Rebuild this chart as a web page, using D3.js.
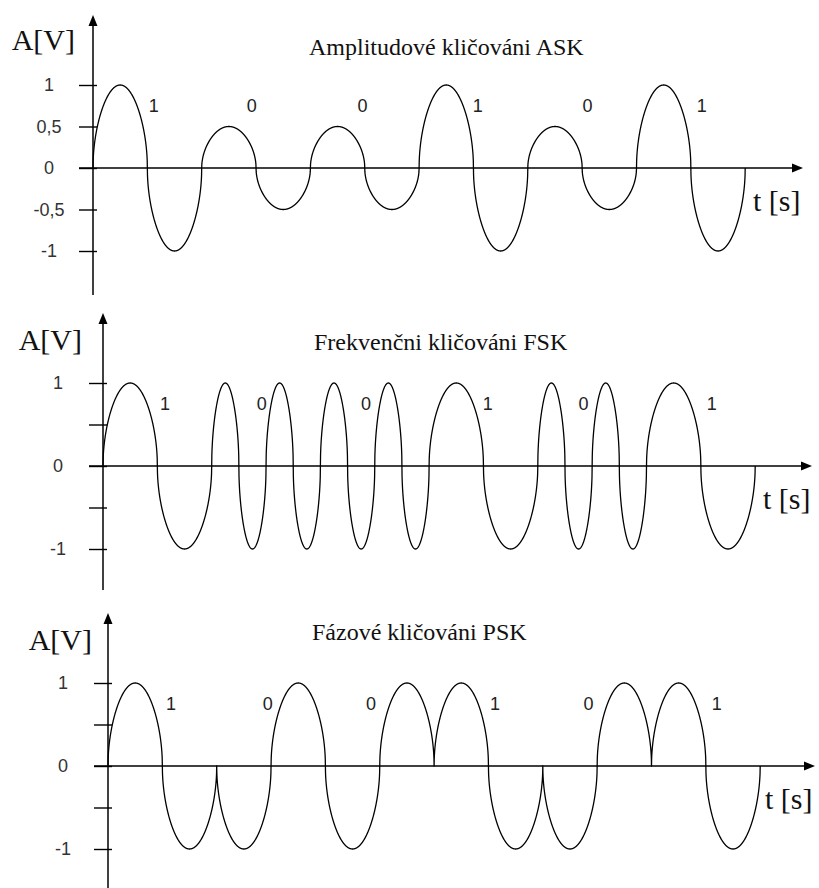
<!DOCTYPE html>
<html><head><meta charset="utf-8">
<script src="https://cdn.jsdelivr.net/npm/d3@7"></script>
<style>body{margin:0;background:#fff}</style>
</head><body>
<svg id="chart" width="819" height="888"></svg>
<script>
// ---- data ----
const bits = [1, 0, 0, 1, 0, 1];
const askAmplitudes = [1, 0.5, 0.5, 1, 0.5, 1];
const fskCycles = [1, 2, 2, 1, 2, 1];
const pskPhasesDeg = [0, 180, 180, 0, 180, 0];
const titles = ["Amplitudové kličováni ASK", "Frekvenčni kličováni FSK", "Fázové kličováni PSK"];
const yTicks = [1, 0.5, 0, -0.5, -1];
const askTickLabels = ["1", "0,5", "0", "-0,5", "-1"];
const keyTickLabels = ["1", "", "0", "", "-1"];
const yLabel = "A[V]";
const xLabel = "t [s]";

// ---- layout / style ----
const lobeShape = 0.5;
const panels = [
  {x0: 93, yTop: 85, yBot: 251, axTop: 15, axBot: 295, titleX: 309, titleY: 55, avX: 75, avY: 50, tsX: 753, arrowX: 803,
   tickLabels: askTickLabels, labelT: [0.56, 1.46, 2.48, 3.54, 4.55, 5.60], tickLabelX: -44,
   amp: k => askAmplitudes[k], carrier: (k, u) => Math.sin(2 * Math.PI * u)},
  {x0: 103, yTop: 383, yBot: 549, axTop: 313, axBot: 590, titleX: 314, titleY: 350, avX: 82, avY: 350, tsX: 763, arrowX: 812,
   tickLabels: keyTickLabels, labelT: [0.57, 1.46, 2.42, 3.54, 4.42, 5.60], tickLabelX: -45,
   amp: k => 1, carrier: (k, u) => Math.sin(2 * Math.PI * fskCycles[k] * u)},
  {x0: 108, yTop: 683, yBot: 849, axTop: 613, axBot: 888, titleX: 312, titleY: 640, avX: 92, avY: 650, tsX: 765, arrowX: 815,
   tickLabels: keyTickLabels, labelT: [0.58, 1.47, 2.42, 3.56, 4.42, 5.60], tickLabelX: -45,
   amp: k => 1, carrier: (k, u) => Math.sin(2 * Math.PI * u + pskPhasesDeg[k] * Math.PI / 180)}
];
const bitWidth = 108.7;

const svg = d3.select("#chart");
svg.append("rect").attr("width", 819).attr("height", 888).attr("fill", "#fff");

const shape = s => Math.sign(s) * Math.pow(Math.abs(s), lobeShape);

panels.forEach((p, i) => {
  const x = d3.scaleLinear().domain([0, bits.length]).range([p.x0, p.x0 + bitWidth * bits.length]);
  const y = d3.scaleLinear().domain([-1, 1]).range([p.yBot, p.yTop]);
  const y0 = y(0);
  const g = svg.append("g");

  // y axis ticks
  const axis = d3.axisLeft(y).tickValues(yTicks).tickSize(14)
    .tickFormat((d, j) => p.tickLabels[j]);
  const ag = g.append("g").attr("transform", `translate(${p.x0},0)`).call(axis);
  ag.select(".domain").remove();
  ag.selectAll(".tick line").attr("x1", 4).attr("stroke", "#000").attr("stroke-width", 1.4);
  ag.selectAll(".tick text").attr("x", p.tickLabelX).attr("text-anchor", "middle")
    .attr("font-family", "'Liberation Sans', Arial, sans-serif").attr("font-size", 18).attr("fill", "#333");

  // y axis line + arrow
  g.append("line").attr("x1", p.x0).attr("x2", p.x0).attr("y1", p.axTop + 8).attr("y2", p.axBot)
    .attr("stroke", "#000").attr("stroke-width", 1.5);
  g.append("path").attr("d", `M${p.x0},${p.axTop} L${p.x0 - 4.5},${p.axTop + 11} L${p.x0 + 4.5},${p.axTop + 11} Z`).attr("fill", "#000");

  // x axis line + arrow
  g.append("line").attr("x1", p.x0 - 14).attr("x2", p.arrowX - 8).attr("y1", y0).attr("y2", y0)
    .attr("stroke", "#000").attr("stroke-width", 1.5);
  g.append("path").attr("d", `M${p.arrowX},${y0} L${p.arrowX - 11},${y0 - 4.5} L${p.arrowX - 11},${y0 + 4.5} Z`).attr("fill", "#000");

  // signal
  const N = 800;
  const pts = [];
  for (let k = 0; k < bits.length; k++) {
    for (let j = 0; j <= N; j++) {
      const u = j / N;
      pts.push([k + u, p.amp(k) * shape(p.carrier(k, u))]);
    }
  }
  const line = d3.line().x(d => x(d[0])).y(d => y(d[1]));
  g.append("path").datum(pts).attr("d", line).attr("fill", "none")
    .attr("stroke", "#000").attr("stroke-width", 1.3).attr("stroke-linejoin", "round");

  // bit labels
  g.selectAll(".bit").data(bits).enter().append("text")
    .attr("x", (d, j) => x(p.labelT[j])).attr("y", y(1) + 21).attr("dy", "0.35em")
    .attr("text-anchor", "middle").attr("font-family", "'Liberation Sans', Arial, sans-serif")
    .attr("font-size", 18).attr("fill", "#222").text(d => d);

  // title
  g.append("text").attr("x", p.titleX).attr("y", p.titleY).attr("font-family", "'Liberation Serif', 'Times New Roman', serif")
    .attr("font-size", 24).attr("fill", "#111").text(titles[i]);
  // axis labels
  g.append("text").attr("x", p.avX).attr("y", p.avY).attr("text-anchor", "end")
    .attr("font-family", "'Liberation Serif', 'Times New Roman', serif").attr("font-size", 30).attr("fill", "#111").text(yLabel);
  g.append("text").attr("x", p.tsX).attr("y", y0 + 43)
    .attr("font-family", "'Liberation Serif', 'Times New Roman', serif").attr("font-size", 30).attr("fill", "#111").text(xLabel);
});
</script>
</body></html>
